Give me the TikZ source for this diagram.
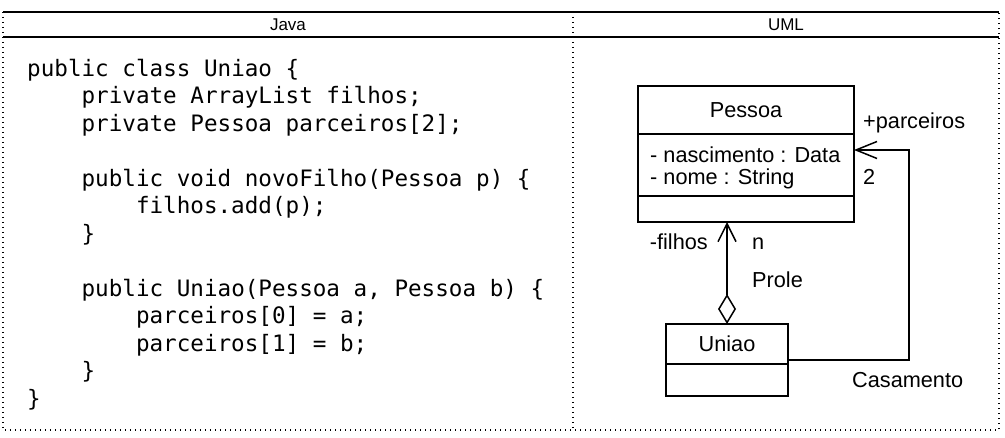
\documentclass[tikz,border=0pt]{standalone}
\usepackage{fontspec}
\setmainfont{Liberation Sans}
\newfontfamily\codefont{DejaVu Sans Mono}
\usetikzlibrary{arrows.meta, positioning}
\tikzset{>=latex}

\begin{document}
\begin{tikzpicture}[x=1pt, y=-1pt,
  frame/.style={line width=1.2pt},
  dotframe/.style={line width=1.3pt, dash pattern=on 1.3pt off 3.7pt},
  hdr/.style={font=\fontsize{17}{18}\selectfont},
  code/.style={anchor=base west, inner sep=0pt, font=\codefont\fontsize{22.6}{27}\selectfont},
  cls/.style={draw, line width=1.5pt, minimum width=216pt, inner sep=0pt, outer sep=0pt, font=\fontsize{21.7}{22}\selectfont},
  lbl/.style={inner sep=0pt, font=\fontsize{21.7}{22}\selectfont},
  aggr/.style={line width=1.5pt, {Diamond[open, length=30pt, width=18pt]}-{Straight Barb[length=18pt, width=18pt]}},
  assoc/.style={line width=1.5pt, -{Straight Barb[length=21pt, width=17pt]}}]
\useasboundingbox (0,0) rectangle (1005,438);
% table frame
\draw[frame] (3,12) -- (999,12);
\draw[frame] (3,37) -- (999,37);
\draw[dotframe] (3,12) -- (3,430) -- (999,430) -- (999,12);
\draw[dotframe] (573,12) -- (573,430);
\node[hdr] (javahdr) at (288,24.5) {Java};
\node[hdr] (umlhdr) at (786,24.5) {UML};
% java source
\foreach \n/\lvl/\txt in {1/0/{public class Uniao \{}, 2/1/{private ArrayList filhos;},
    3/1/{private Pessoa parceiros[2];}, 5/1/{public void novoFilho(Pessoa p) \{},
    6/2/{filhos.add(p);}, 7/1/{\}}, 9/1/{public Uniao(Pessoa a, Pessoa b) \{},
    10/2/{parceiros[0] = a;}, 11/2/{parceiros[1] = b;}, 12/1/{\}}, 13/0/{\}}}
  \node[code] (code\n) at ({27+54.4*\lvl},{76.5+27.5*(\n-1)}) {\txt};
% uml classes
\node[cls, minimum height=48pt] (pessoa) at (746,110) {Pessoa};
\node[cls, minimum height=62pt, below=0pt of pessoa] (pessoaattr) {};
\node[lbl, anchor=base west] (attr1) at (650,163) {- nascimento : Data};
\node[lbl, anchor=base west] (attr2) at (650,185) {- nome : String};
\node[cls, minimum height=26pt, below=0pt of pessoaattr] (pessoaops) {};
\node[cls, minimum width=122pt, minimum height=40pt] (uniao) at (727,344) {Uniao};
\node[cls, minimum width=122pt, minimum height=32pt, below=0pt of uniao] (uniaoops) {};
% associations
\draw[aggr] (uniao.north) -- (uniao.north |- pessoaops.south);
\coordinate (casbend) at (909,150);
\draw[assoc] ([yshift=-16pt]uniao.east) -| (casbend) -- ([yshift=15pt]pessoaattr.east);
\node[lbl, anchor=base west] (parc) at (863,129) {+parceiros};
\node[lbl, anchor=base west] (multparc) at (863,185) {2};
\node[lbl, anchor=base east] (filhos) at (708,250) {-filhos};
\node[lbl, anchor=base west] (multfilhos) at (752,250) {n};
\node[lbl, anchor=base west] (prole) at (752,288) {Prole};
\node[lbl, anchor=base west] (casamento) at (852,388) {Casamento};
\end{tikzpicture}
\end{document}
